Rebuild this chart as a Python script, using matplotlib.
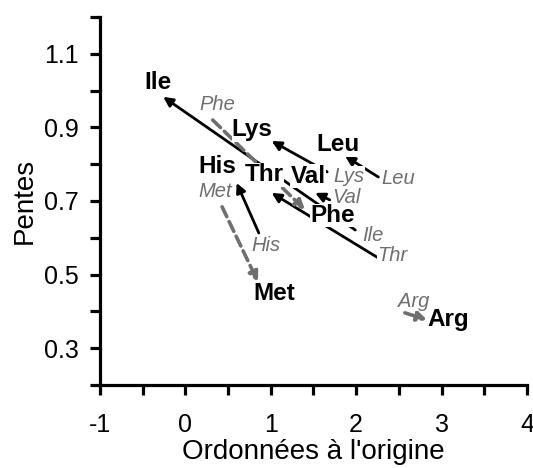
import matplotlib
matplotlib.use("Agg")
import matplotlib.pyplot as plt
from matplotlib.ticker import MultipleLocator

plt.rcParams['font.family'] = ['Liberation Sans', 'DejaVu Sans']
plt.rcParams['axes.unicode_minus'] = False

# amino acids, arrow from old (gray) to new (black) values
acids = ['Ile', 'Lys', 'Leu', 'His', 'Thr', 'Val', 'Phe', 'Met', 'Arg']
x_old = [1.99, 1.66, 2.26, 0.86, 2.26, 1.69, 0.32, 0.43, 2.57]
y_old = [0.621, 0.779, 0.765, 0.613, 0.545, 0.703, 0.920, 0.684, 0.396]
x_new = [-0.26, 1.01, 1.87, 0.60, 1.01, 1.52, 1.40, 0.85, 2.83]
y_new = [0.983, 0.863, 0.822, 0.749, 0.722, 0.722, 0.676, 0.480, 0.377]
dashed = [False, False, False, False, False, False, True, True, True]

# label offsets in points (text placement only)
off_new = [(-4, 10), (-14, 8), (-5, 8), (-14, 12), (-5, 13), (-5, 12), (20, -4), (12, -8), (15, 0)]
off_old = [(13, -4), (16, -3), (14, -1), (5, -9), (10, 2), (12, 2), (3, 11), (-5, 11), (6, 8)]

fig = plt.figure(figsize=(5.33, 4.68), dpi=100)
ax = fig.add_axes([0.1876, 0.1774, 0.8011, 0.7863])

gray = '#6f6f6f'
for i, name in enumerate(acids):
    if dashed[i]:
        props = dict(arrowstyle='-|>', color=gray, lw=2.6, linestyle=(0, (3, 1.5)),
                     mutation_scale=14, shrinkA=0, shrinkB=0)
    else:
        props = dict(arrowstyle='-|>', color='black', lw=2.0,
                     mutation_scale=14, shrinkA=0, shrinkB=0)
    ax.annotate('', xy=(x_new[i], y_new[i]), xytext=(x_old[i], y_old[i]),
                arrowprops=props, zorder=2)

box = dict(facecolor='white', edgecolor='none', pad=0.1)
for i, name in enumerate(acids):
    ax.annotate(name, xy=(x_old[i], y_old[i]), xytext=off_old[i], textcoords='offset points',
                ha='center', va='center', fontsize=14.5, style='italic', color=gray,
                bbox=box, zorder=3)
    ax.annotate(name, xy=(x_new[i], y_new[i]), xytext=off_new[i], textcoords='offset points',
                ha='center', va='center', fontsize=17.5, fontweight='bold', color='black',
                bbox=box, zorder=4)

ax.set_xlim(-1, 4)
ax.set_ylim(0.2, 1.2)
ax.xaxis.set_major_locator(MultipleLocator(1))
ax.xaxis.set_minor_locator(MultipleLocator(0.5))
ax.set_yticks([0.3, 0.5, 0.7, 0.9, 1.1])
ax.yaxis.set_minor_locator(MultipleLocator(0.1))
ax.set_yticklabels(['0.3', '0.5', '0.7', '0.9', '1.1'])

for s in ['top', 'right']:
    ax.spines[s].set_visible(False)
for s in ['left', 'bottom']:
    ax.spines[s].set_linewidth(2.3)
ax.tick_params(which='both', direction='out', length=7.5, width=2.3, labelsize=18)
ax.tick_params(axis='x', pad=13)
ax.tick_params(axis='y', pad=8)

ax.set_xlabel("Ordonnées à l'origine", fontsize=20, labelpad=1)
ax.set_ylabel('Pentes', fontsize=20, labelpad=4)

fig.savefig('out.png', dpi=100)
